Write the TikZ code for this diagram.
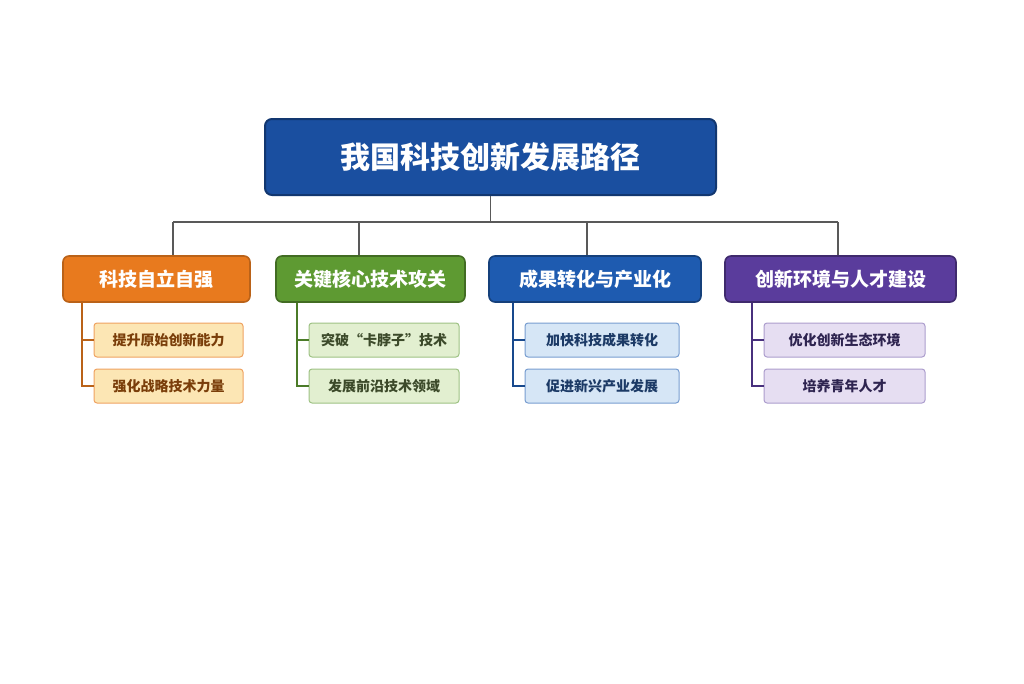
\documentclass[tikz,border=0pt]{standalone}
\usepackage{fontspec}
\setmainfont{Noto Sans CJK SC}
\usetikzlibrary{positioning}
\definecolor{tblue}{HTML}{1A4FA0}
\definecolor{cor}{HTML}{E87A1E}\definecolor{corl}{HTML}{FCE6B4}\definecolor{cord}{HTML}{7A3E0A}
\definecolor{cgr}{HTML}{5E9A32}\definecolor{cgrl}{HTML}{E2EFD0}\definecolor{cgrd}{HTML}{3C4A2A}
\definecolor{cbl}{HTML}{1E5BB0}\definecolor{cbll}{HTML}{D6E6F6}\definecolor{cbld}{HTML}{1C3A66}
\definecolor{cpu}{HTML}{5A3C9C}\definecolor{cpul}{HTML}{E6DEF2}\definecolor{cpud}{HTML}{2E2450}
\tikzset{
 title/.style={draw=tblue!70!black,line width=2pt,fill=tblue,rounded corners=7pt,text=white,font=\bfseries\fontsize{30}{32}\selectfont,minimum width=451pt,minimum height=76pt},
 cat/.style={line width=1.6pt,rounded corners=6pt,text=white,font=\bfseries\fontsize{19}{21}\selectfont,minimum height=46pt},
 sub/.style={line width=1pt,rounded corners=3pt,font=\bfseries\fontsize{14}{16}\selectfont,minimum height=34pt},
 ln/.style={line width=1.3pt,draw=gray!70!black}
}
\begin{document}
\begin{tikzpicture}[x=1pt,y=-1pt]
\useasboundingbox (0,0) rectangle (1024,683);
\node[title] (T) at (490.5,157) {我国科技创新发展路径};
\coordinate (bar) at (490.5,222);
\node[cat,draw=cor!80!black,fill=cor,minimum width=187pt] (c1) at (156.5,279) {科技自立自强};
\node[cat,draw=cgr!70!black,fill=cgr,minimum width=189pt] (c2) at (370.5,279) {关键核心技术攻关};
\node[cat,draw=cbl!70!black,fill=cbl,minimum width=212pt] (c3) at (595,279) {成果转化与产业化};
\node[cat,draw=cpu!70!black,fill=cpu,minimum width=231pt] (c4) at (840.5,279) {创新环境与人才建设};
\node[sub,draw=cor!70,fill=corl,text=cord,minimum width=149pt] (s11) at (168.5,340) {提升原始创新能力};
\node[sub,draw=cor!70,fill=corl,text=cord,minimum width=149pt] (s12) at (168.5,386) {强化战略技术力量};
\node[sub,draw=cgr!60,fill=cgrl,text=cgrd,minimum width=150pt] (s21) at (384,340) {突破“卡脖子”技术};
\node[sub,draw=cgr!60,fill=cgrl,text=cgrd,minimum width=150pt] (s22) at (384,386) {发展前沿技术领域};
\node[sub,draw=cbl!60,fill=cbll,text=cbld,minimum width=154pt] (s31) at (602,340) {加快科技成果转化};
\node[sub,draw=cbl!60,fill=cbll,text=cbld,minimum width=154pt] (s32) at (602,386) {促进新兴产业发展};
\node[sub,draw=cpu!50,fill=cpul,text=cpud,minimum width=161pt] (s41) at (844.5,340) {优化创新生态环境};
\node[sub,draw=cpu!50,fill=cpul,text=cpud,minimum width=161pt] (s42) at (844.5,386) {培养青年人才};
\draw[ln] (T.south) -- (bar);
\draw[ln] (173,222) coordinate (l) -- (838,222);
\foreach \c/\x in {c1/173,c2/359,c3/587,c4/838}{\draw[ln] (\x,222) -- (\x,0 |- \c.north);}
\foreach \c/\x/\col in {1/82/cor,2/297/cgr,3/513/cbl,4/752/cpu}{
 \draw[line width=1.4pt,draw=\col!80!black] (\x,0 |- c\c.south) -- (\x,386) -- (s\c2.west);
 \draw[line width=1.4pt,draw=\col!80!black] (\x,340) -- (s\c1.west);}
\end{tikzpicture}
\end{document}
